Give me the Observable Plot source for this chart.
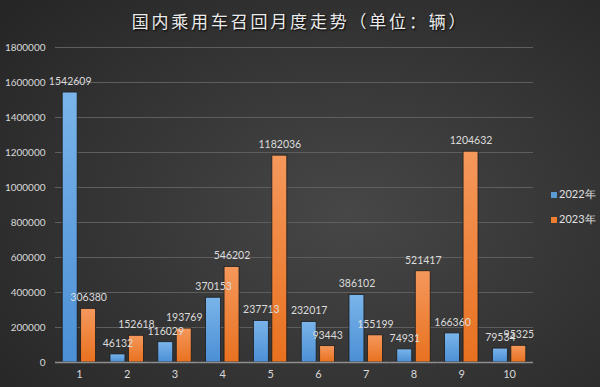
<!DOCTYPE html>
<html>
<head>
<meta charset="utf-8">
<script src="https://cdn.jsdelivr.net/npm/d3@7"></script>
<script src="https://cdn.jsdelivr.net/npm/@observablehq/plot@0.6"></script>
<style>
  html, body { margin: 0; padding: 0; background: #2a2a2a; }
  #wrap {
    position: relative; width: 600px; height: 387px; overflow: hidden;
    background: radial-gradient(ellipse 75% 80% at 58% 55%, #474747 0%, #363636 50%, #262626 100%);
    font-family: Lato, "Noto Sans", sans-serif;
  }
  #title {
    position: absolute; left: 0; top: 8px; width: 600px; text-align: center;
    font-family: "Noto Sans CJK SC", sans-serif; font-size: 17px; letter-spacing: 2.8px;
    color: #ececec; text-shadow: 1px 1px 2px #000;
  }
  .leg { position: absolute; left: 551px; font-size: 11px; color: #e0e0e0; display: flex; align-items: center; }
  .leg span.sw { width: 6px; height: 6px; margin-right: 2px; display: inline-block; }
  #chart { position: absolute; left: 0; top: 0; }
</style>
</head>
<body>
<div id="wrap">
  <div id="chart"></div>
  <div id="title">国内乘用车召回月度走势（单位：辆）</div>
  <div class="leg" style="top:187px"><span class="sw" style="background:#5b9bd5"></span><span>2022年</span></div>
  <div class="leg" style="top:212px"><span class="sw" style="background:#ed7d31"></span><span>2023年</span></div>
</div>
<script>
const months = ["1", "2", "3", "4", "5", "6", "7", "8", "9", "10"];
const series = ["2022年", "2023年"];
const recalls2022 = [1542609, 46132, 116029, 370153, 237713, 232017, 386102, 74931, 166360, 79534];
const recalls2023 = [306380, 152618, 193769, 546202, 1182036, 93443, 155199, 521417, 1204632, 95325];
const yTicks = [0, 200000, 400000, 600000, 800000, 1000000, 1200000, 1400000, 1600000, 1800000];

const d2022 = months.map((m, i) => ({month: m, year: series[0], value: recalls2022[i]}));
const d2023 = months.map((m, i) => ({month: m, year: series[1], value: recalls2023[i]}));
const all = d2022.concat(d2023);

const plot = Plot.plot({
  width: 600,
  height: 387,
  marginLeft: 55,
  marginRight: 67,
  marginTop: 47,
  marginBottom: 25,
  style: {background: "transparent", fontFamily: "Lato, 'Noto Sans', sans-serif", color: "#d9d9d9"},
  fx: {domain: months, padding: 0, round: false, label: null, axis: null},
  x: {domain: series, axis: null, round: false, paddingInner: 0.19, paddingOuter: 0.39},
  y: {domain: [0, 1800000], axis: null},
  marks: [
    Plot.gridY(yTicks.slice(1), {stroke: "#5e5e5e", strokeOpacity: 1, strokeWidth: 1}),
    Plot.axisY(yTicks, {tickSize: 0, tickPadding: 10, tickFormat: d3.format("d"), fill: "#d9d9d9", fontSize: 10, label: null}),
    Plot.axisFx({anchor: "bottom", tickSize: 0, tickPadding: 8, fill: "#d9d9d9", fontSize: 11, label: null}),
    Plot.barY(d2022, {fx: "month", x: "year", y: "value", fill: "url(#gBlue)", stroke: "#1c1c1c", strokeWidth: 0.8}),
    Plot.barY(d2023, {fx: "month", x: "year", y: "value", fill: "url(#gOrange)", stroke: "#1c1c1c", strokeWidth: 0.8}),
    Plot.ruleY([0], {stroke: "#8e8e8e", strokeWidth: 1.5}),
    Plot.text(all, {fx: "month", x: "year", y: "value", text: d => String(d.value), dy: -11, fill: "#dcdcdc", fontSize: 10.5})
  ]
});

const svg = d3.select(plot);
const defs = svg.insert("defs", ":first-child");
const gb = defs.append("linearGradient").attr("id", "gBlue").attr("x1", 0).attr("y1", 0).attr("x2", 0).attr("y2", 1);
gb.append("stop").attr("offset", "0%").attr("stop-color", "#7ab4ea");
gb.append("stop").attr("offset", "100%").attr("stop-color", "#4b8fd5");
const go = defs.append("linearGradient").attr("id", "gOrange").attr("x1", 0).attr("y1", 0).attr("x2", 0).attr("y2", 1);
go.append("stop").attr("offset", "0%").attr("stop-color", "#f5985c");
go.append("stop").attr("offset", "100%").attr("stop-color", "#e8711f");

document.getElementById("chart").appendChild(plot);
</script>
</body>
</html>
